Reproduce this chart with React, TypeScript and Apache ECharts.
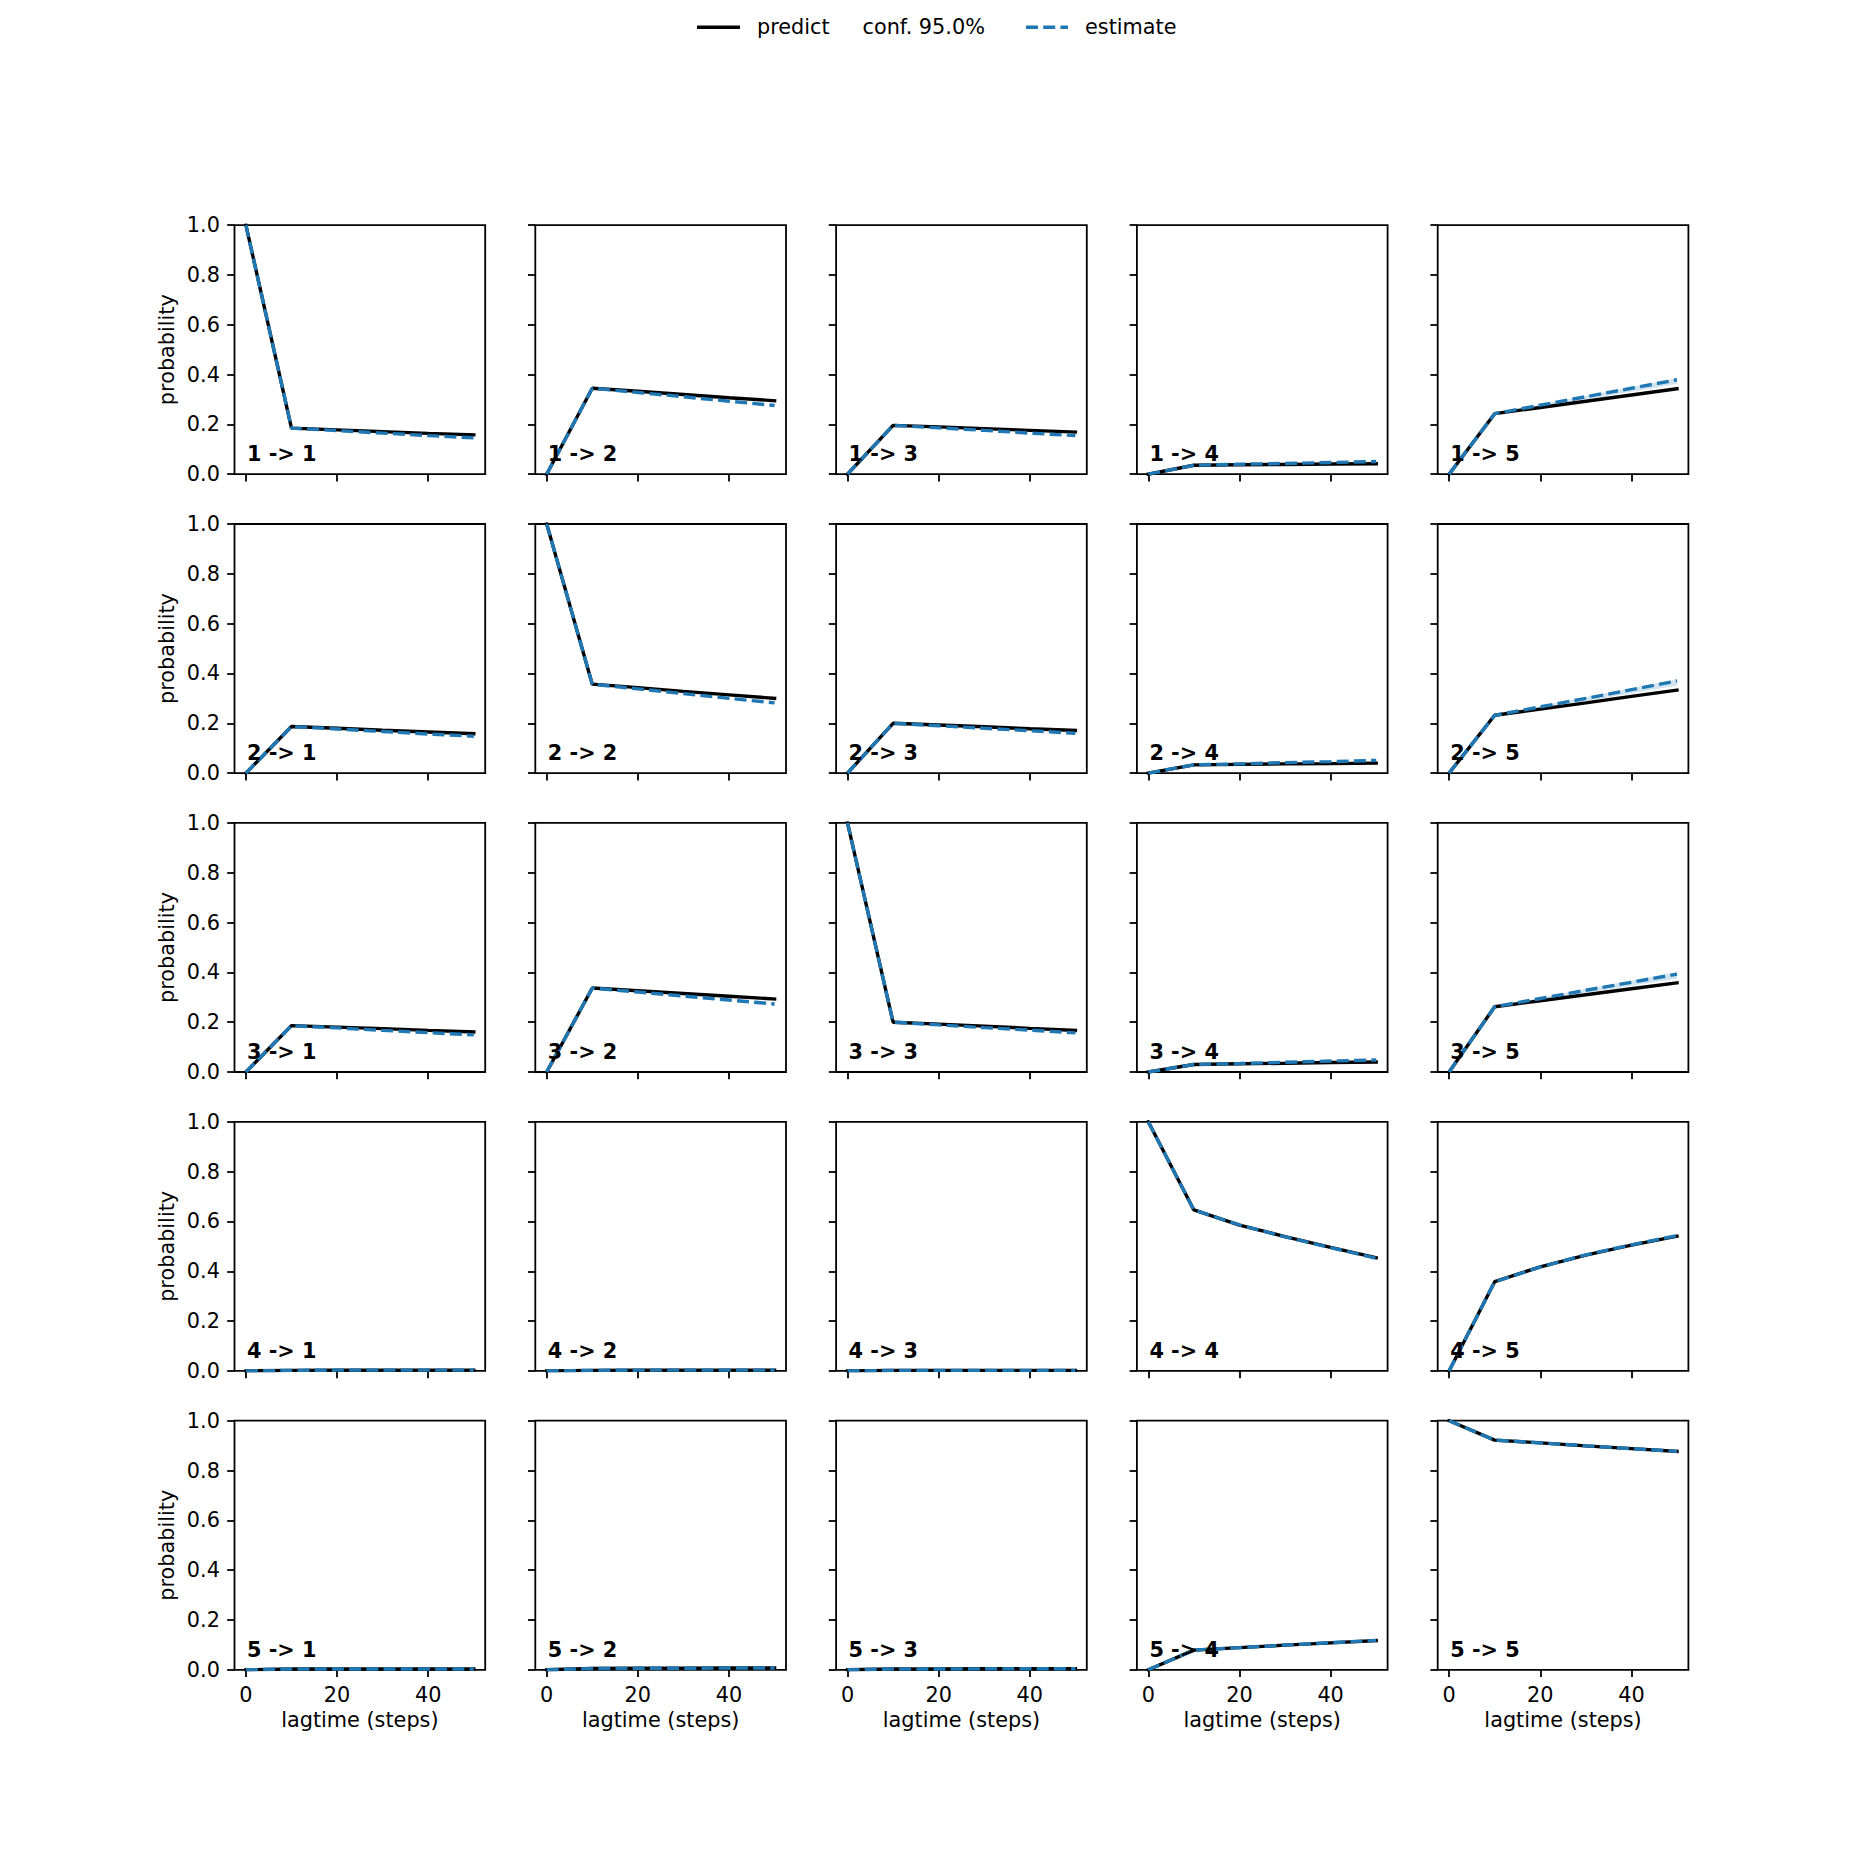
import React, { useEffect, useRef } from "react";
import * as echarts from "echarts";

// ---------- data ----------
const lagtimes = [0, 10, 20, 30, 40, 50];
const states = ["1", "2", "3", "4", "5"];
const xTickValues = [0, 20, 40];

// predictions, one list per target state, grouped by start state
const predictFrom1 = [
  [1.0, 0.185, 0.178, 0.171, 0.164, 0.158],
  [0, 0.345, 0.333, 0.320, 0.307, 0.295],
  [0, 0.196, 0.190, 0.183, 0.176, 0.169],
  [0, 0.036, 0.038, 0.039, 0.041, 0.042],
  [0, 0.243, 0.268, 0.293, 0.318, 0.343],
];
const estimateFrom1 = [
  [1.0, 0.185, 0.175, 0.165, 0.155, 0.146],
  [0, 0.345, 0.328, 0.311, 0.293, 0.276],
  [0, 0.196, 0.186, 0.176, 0.165, 0.155],
  [0, 0.036, 0.040, 0.043, 0.047, 0.051],
  [0, 0.243, 0.277, 0.311, 0.345, 0.379],
];
const predictFrom2 = [
  [0, 0.187, 0.180, 0.172, 0.165, 0.158],
  [1.0, 0.357, 0.343, 0.328, 0.314, 0.300],
  [0, 0.200, 0.193, 0.186, 0.178, 0.171],
  [0, 0.033, 0.035, 0.037, 0.038, 0.040],
  [0, 0.232, 0.257, 0.282, 0.308, 0.333],
];
const estimateFrom2 = [
  [0, 0.187, 0.177, 0.167, 0.157, 0.148],
  [1.0, 0.357, 0.338, 0.319, 0.300, 0.282],
  [0, 0.200, 0.190, 0.180, 0.170, 0.160],
  [0, 0.033, 0.037, 0.042, 0.046, 0.051],
  [0, 0.232, 0.266, 0.300, 0.335, 0.370],
];
const predictFrom3 = [
  [0, 0.186, 0.180, 0.174, 0.167, 0.161],
  [0, 0.337, 0.326, 0.315, 0.304, 0.293],
  [1.0, 0.200, 0.192, 0.184, 0.175, 0.167],
  [0, 0.030, 0.033, 0.035, 0.038, 0.040],
  [0, 0.262, 0.286, 0.310, 0.334, 0.358],
];
const estimateFrom3 = [
  [0, 0.186, 0.177, 0.167, 0.158, 0.149],
  [0, 0.337, 0.321, 0.305, 0.289, 0.273],
  [1.0, 0.200, 0.189, 0.178, 0.168, 0.157],
  [0, 0.030, 0.034, 0.039, 0.044, 0.048],
  [0, 0.262, 0.295, 0.328, 0.360, 0.393],
];
const predictFrom4 = [
  [0, 0.002, 0.003, 0.003, 0.003, 0.003],
  [0, 0.002, 0.003, 0.003, 0.003, 0.003],
  [0, 0.002, 0.002, 0.002, 0.002, 0.002],
  [1.0, 0.646, 0.585, 0.539, 0.496, 0.454],
  [0, 0.358, 0.418, 0.465, 0.505, 0.541],
];
const estimateFrom4 = [
  [0, 0.002, 0.003, 0.003, 0.003, 0.003],
  [0, 0.002, 0.003, 0.003, 0.003, 0.003],
  [0, 0.002, 0.002, 0.002, 0.002, 0.002],
  [1.0, 0.646, 0.586, 0.538, 0.495, 0.452],
  [0, 0.358, 0.417, 0.466, 0.506, 0.543],
];
const predictFrom5 = [
  [0, 0.003, 0.003, 0.003, 0.003, 0.003],
  [0, 0.005, 0.006, 0.006, 0.007, 0.007],
  [0, 0.003, 0.003, 0.004, 0.004, 0.004],
  [0, 0.079, 0.089, 0.099, 0.108, 0.117],
  [1.0, 0.922, 0.911, 0.899, 0.888, 0.877],
];
const estimateFrom5 = [
  [0, 0.003, 0.003, 0.003, 0.003, 0.003],
  [0, 0.005, 0.006, 0.006, 0.007, 0.007],
  [0, 0.003, 0.003, 0.004, 0.004, 0.004],
  [0, 0.079, 0.089, 0.099, 0.109, 0.118],
  [1.0, 0.922, 0.911, 0.899, 0.888, 0.877],
];
// 95% confidence band of the estimate, for the transitions into state 5
const confLowerTo5 = [
  [0, 0.243, 0.272, 0.301, 0.331, 0.362],
  [0, 0.232, 0.261, 0.290, 0.320, 0.352],
  [0, 0.262, 0.290, 0.318, 0.346, 0.374],
];
const confUpperTo5 = [
  [0, 0.243, 0.280, 0.315, 0.350, 0.386],
  [0, 0.232, 0.269, 0.305, 0.341, 0.377],
  [0, 0.262, 0.298, 0.333, 0.367, 0.401],
];

const predictAll = [predictFrom1, predictFrom2, predictFrom3, predictFrom4, predictFrom5];
const estimateAll = [estimateFrom1, estimateFrom2, estimateFrom3, estimateFrom4, estimateFrom5];

// ---------- layout / style ----------
const W = 1876;
const FONT = "DejaVu Sans";
const FS = 20.8;
const LW = 3.4;
const SPINE = 1.8;
const PANEL_W = 250.7;
const PANEL_H = 249.1;
const LEFT0 = 234.5;
const TOP0 = 225.1;
const STEP_X = 300.8;
const STEP_Y = 298.9;
const BLUE = "#1f77b4";
const DASH = [12, 5.2];

function buildOption() {
  const grids: any[] = [];
  const xAxes: any[] = [];
  const yAxes: any[] = [];
  const series: any[] = [];
  const graphics: any[] = [];

  for (let r = 0; r < 5; r++) {
    for (let c = 0; c < 5; c++) {
      const k = r * 5 + c;
      const left = LEFT0 + c * STEP_X;
      const top = TOP0 + r * STEP_Y;
      grids.push({
        left,
        top,
        width: PANEL_W,
        height: PANEL_H,
        show: true,
        borderColor: "#000",
        borderWidth: SPINE,
        backgroundColor: "transparent",
        containLabel: false,
      });
      xAxes.push({
        type: "value",
        gridIndex: k,
        min: -2.5,
        max: 52.5,
        position: "bottom",
        axisLine: { show: false, onZero: false },
        splitLine: { show: false },
        axisTick: {
          show: true,
          inside: false,
          length: 7.3,
          customValues: xTickValues,
          lineStyle: { color: "#000", width: SPINE },
        },
        axisLabel: {
          show: r === 4,
          customValues: xTickValues,
          margin: 14.6,
          color: "#000",
          fontSize: FS,
          fontFamily: FONT,
        },
        name: r === 4 ? "lagtime (steps)" : "",
        nameLocation: "middle",
        nameGap: 40,
        nameTextStyle: { color: "#000", fontSize: FS, fontFamily: FONT },
      });
      yAxes.push({
        type: "value",
        gridIndex: k,
        min: 0,
        max: 1,
        interval: 0.2,
        position: "left",
        axisLine: { show: false, onZero: false },
        splitLine: { show: false },
        axisTick: {
          show: true,
          inside: false,
          length: 7.3,
          lineStyle: { color: "#000", width: SPINE },
        },
        axisLabel: {
          show: c === 0,
          margin: 14.6,
          color: "#000",
          fontSize: FS,
          fontFamily: FONT,
          formatter: (v: number) => v.toFixed(1),
        },
        name: c === 0 ? "probability" : "",
        nameLocation: "middle",
        nameGap: 57,
        nameTextStyle: { color: "#000", fontSize: FS, fontFamily: FONT },
      });

      const pred = predictAll[r][c];
      const est = estimateAll[r][c];
      series.push({
        type: "line",
        xAxisIndex: k,
        yAxisIndex: k,
        data: lagtimes.map((t, n) => [t, pred[n]]),
        symbol: "none",
        lineStyle: { color: "#000", width: LW, cap: "square" },
        z: 2,
        silent: true,
      });
      if (c === 4 && r < 3) {
        const lo = confLowerTo5[r];
        const hi = confUpperTo5[r];
        series.push({
          type: "custom",
          xAxisIndex: k,
          yAxisIndex: k,
          data: [0],
          clip: true,
          z: 3,
          silent: true,
          renderItem: (_p: any, api: any) => {
            const pts: number[][] = [];
            lagtimes.forEach((t, n) => pts.push(api.coord([t, hi[n]])));
            for (let n = lagtimes.length - 1; n >= 0; n--) pts.push(api.coord([lagtimes[n], lo[n]]));
            return {
              type: "polygon",
              shape: { points: pts },
              style: { fill: "rgba(31,119,180,0.2)", stroke: "none" },
            };
          },
        });
      }
      series.push({
        type: "line",
        xAxisIndex: k,
        yAxisIndex: k,
        data: lagtimes.map((t, n) => [t, est[n]]),
        symbol: "none",
        lineStyle: { color: BLUE, width: LW, type: DASH, cap: "butt" },
        z: 4,
        silent: true,
      });

      graphics.push({
        type: "text",
        x: left + 12.5,
        y: top + PANEL_H - 12.5 - 7.5,
        z: 10,
        style: {
          text: `${states[r]} -> ${states[c]}`,
          fill: "#000",
          font: `bold ${FS}px "${FONT}"`,
          verticalAlign: "middle",
          align: "left",
        },
      });
    }
  }

  // legend (figure level, upper centre)
  const ly = 27.3;
  graphics.push({
    type: "line",
    shape: { x1: 697, y1: ly, x2: 740, y2: ly },
    style: { stroke: "#000", lineWidth: LW },
  });
  graphics.push({
    type: "text",
    x: 757,
    y: ly,
    style: { text: "predict", fill: "#000", font: `${FS}px "${FONT}"`, verticalAlign: "middle", align: "left" },
  });
  graphics.push({
    type: "text",
    x: 862.5,
    y: ly,
    style: { text: "conf. 95.0%", fill: "#000", font: `${FS}px "${FONT}"`, verticalAlign: "middle", align: "left" },
  });
  graphics.push({
    type: "line",
    shape: { x1: 1026, y1: ly, x2: 1068, y2: ly },
    style: { stroke: BLUE, lineWidth: LW, lineDash: DASH },
  });
  graphics.push({
    type: "text",
    x: 1085,
    y: ly,
    style: { text: "estimate", fill: "#000", font: `${FS}px "${FONT}"`, verticalAlign: "middle", align: "left" },
  });

  return {
    animation: false,
    backgroundColor: "#fff",
    textStyle: { fontFamily: FONT },
    grid: grids,
    xAxis: xAxes,
    yAxis: yAxes,
    series,
    graphic: graphics,
  };
}

export default function App() {
  const ref = useRef<HTMLDivElement>(null);
  useEffect(() => {
    if (!ref.current) return;
    const chart = echarts.init(ref.current, undefined, { renderer: "svg" });
    chart.setOption(buildOption() as any);
    return () => chart.dispose();
  }, []);
  return (
    <div
      ref={ref}
      style={{ position: "absolute", left: 0, top: 0, width: W, height: W, background: "#fff" }}
    />
  );
}
